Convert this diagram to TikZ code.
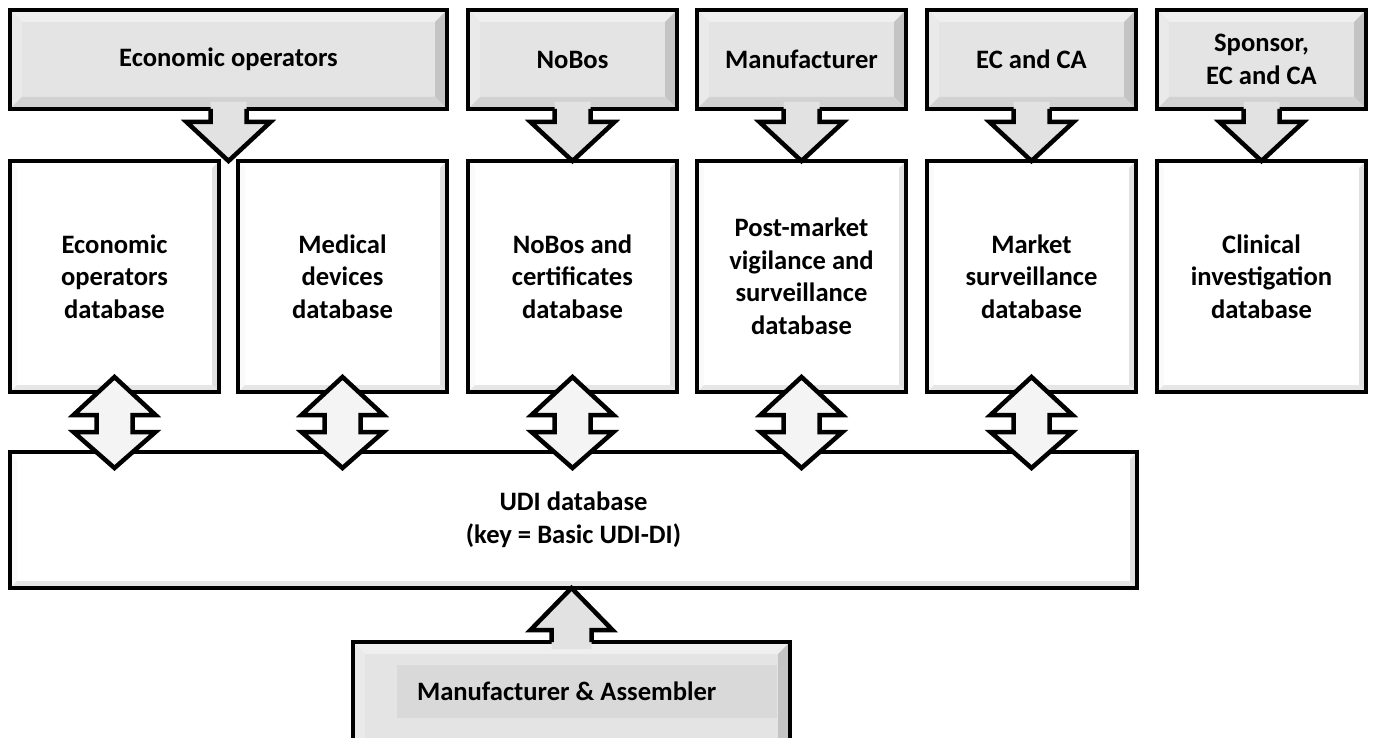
\documentclass[tikz,border=0pt]{standalone}
\usepackage{fontspec}
\setmainfont{Carlito}
\usetikzlibrary{calc}
\definecolor{topgray}{HTML}{E4E4E4}
\definecolor{topbevT}{HTML}{EFEFEF}
\definecolor{topbevL}{HTML}{EAEAEA}
\definecolor{topbevR}{HTML}{C4C4C4}
\definecolor{topbevB}{HTML}{D2D2D2}
\definecolor{dbbevR}{HTML}{E0E0E0}
\definecolor{dbbevB}{HTML}{E6E6E6}
\definecolor{innergray}{HTML}{D9D9D9}
\definecolor{arrowgray}{HTML}{E2E2E2}
\definecolor{dblgray}{HTML}{F4F4F4}
\tikzset{
  box/.style={rectangle, inner sep=0pt, outer sep=0pt, align=center,
    font=\fontsize{26.6}{32.5}\selectfont\bfseries, text=black},
  topbox/.style={box, fill=topgray},
  dbbox/.style={box, fill=white},
  border/.style={line width=4.5pt, draw=black},
  arrowfill/.style={fill=arrowgray},
  dblfill/.style={fill=dblgray},
  arrowline/.style={line width=4.5pt, draw=black, line join=miter},
}
% bevel: node, depth, top, left, right, bottom colours
\newcommand\mybevel[6]{%
  \fill[#3] (#1.north west) -- (#1.north east) -- ($(#1.north east)+(-#2,#2)$) -- ($(#1.north west)+(#2,#2)$) -- cycle;
  \fill[#4] (#1.north west) -- (#1.south west) -- ($(#1.south west)+(#2,-#2)$) -- ($(#1.north west)+(#2,#2)$) -- cycle;
  \fill[#5] (#1.north east) -- (#1.south east) -- ($(#1.south east)+(-#2,-#2)$) -- ($(#1.north east)+(-#2,#2)$) -- cycle;
  \fill[#6] (#1.south west) -- (#1.south east) -- ($(#1.south east)+(-#2,-#2)$) -- ($(#1.south west)+(#2,-#2)$) -- cycle;
  \draw[border] (#1.north west) rectangle (#1.south east);
}
% down arrow from source point #1 (box bottom) to tip #2
\newcommand\mydownarrow[2]{%
  \path[arrowfill] ($(#1)+(-18,-7)$) -- ($(#1)+(-18,13)$) -- ($(#1)+(-42,13)$) -- (#2) -- ($(#1)+(42,13)$) -- ($(#1)+(18,13)$) -- ($(#1)+(18,-7)$) -- cycle;
  \draw[arrowline] ($(#1)+(-18,0)$) -- ($(#1)+(-18,13)$) -- ($(#1)+(-42,13)$) -- (#2) -- ($(#1)+(42,13)$) -- ($(#1)+(18,13)$) -- ($(#1)+(18,0)$);
}
% up arrow from source point #1 (box top) to tip #2
\newcommand\myuparrow[2]{%
  \path[arrowfill] ($(#1)+(-20,7)$) -- ($(#1)+(-20,-12)$) -- ($(#1)+(-41,-12)$) -- (#2) -- ($(#1)+(41,-12)$) -- ($(#1)+(20,-12)$) -- ($(#1)+(20,7)$) -- cycle;
  \draw[arrowline] ($(#1)+(-20,0)$) -- ($(#1)+(-20,-12)$) -- ($(#1)+(-41,-12)$) -- (#2) -- ($(#1)+(41,-12)$) -- ($(#1)+(20,-12)$) -- ($(#1)+(20,0)$);
}
% double arrow between tips #1 (top) and #2 (bottom)
\newcommand\mydblarrow[2]{%
  \draw[arrowline, dblfill] (#1) -- ($(#1)+(41,38)$) -- ($(#1)+(18,38)$) -- ($(#2)+(18,-36)$) -- ($(#2)+(41,-36)$) -- (#2)
    -- ($(#2)+(-41,-36)$) -- ($(#2)+(-18,-36)$) -- ($(#1)+(-18,38)$) -- ($(#1)+(-41,38)$) -- cycle;
}
\begin{document}
\begin{tikzpicture}[x=1pt,y=-1pt]
\useasboundingbox (0,0) rectangle (1379,738);
\clip (0,0) rectangle (1379,738);
\fill[white] (0,0) rectangle (1379,738);

% top boxes
\node[topbox, minimum width=437pt, minimum height=99pt, anchor=north west] (eo) at (10,10) {Economic operators};
\node[topbox, minimum width=209pt, minimum height=99pt, anchor=north west] (nb) at (468,10) {NoBos};
\node[topbox, minimum width=209pt, minimum height=99pt, anchor=north west] (mf) at (697,10) {Manufacturer};
\node[topbox, minimum width=209pt, minimum height=99pt, anchor=north west] (ec) at (927,10) {EC and CA};
\node[topbox, minimum width=209pt, minimum height=99pt, anchor=north west] (sp) at (1157,10) {Sponsor,\\EC and CA};
\foreach \n in {eo,nb,mf,ec,sp} {\mybevel{\n}{12}{topbevT}{topbevL}{topbevR}{topbevB}}

% database boxes
\node[dbbox, minimum width=209pt, minimum height=231pt, anchor=north west] (eodb) at (10,161) {Economic\\operators\\database};
\node[dbbox, minimum width=209pt, minimum height=231pt, anchor=north west] (mddb) at (238,161) {Medical\\devices\\database};
\node[dbbox, minimum width=209pt, minimum height=231pt, anchor=north west] (nbdb) at (468,161) {NoBos and\\certificates\\database};
\node[dbbox, minimum width=209pt, minimum height=231pt, anchor=north west] (pmdb) at (697,161) {Post-market\\vigilance and\\surveillance\\database};
\node[dbbox, minimum width=209pt, minimum height=231pt, anchor=north west] (msdb) at (927,161) {Market\\surveillance\\database};
\node[dbbox, minimum width=209pt, minimum height=231pt, anchor=north west] (cidb) at (1157,161) {Clinical\\investigation\\database};
\foreach \n in {eodb,mddb,nbdb,pmdb,msdb,cidb} {\mybevel{\n}{7}{white}{white!98!black}{dbbevR}{dbbevB}}

% UDI box
\node[dbbox, minimum width=1127pt, minimum height=136pt, anchor=north west] (udi) at (10,452) {UDI database\\(key = Basic UDI-DI)};
\mybevel{udi}{7}{white}{white!98!black}{dbbevR}{dbbevB}

% Manufacturer & Assembler box
\node[topbox, minimum width=437pt, minimum height=110pt, anchor=north west] (ma) at (353,642) {};
\mybevel{ma}{12}{topbevT}{topbevL}{topbevR}{topbevB}
\node[rectangle, fill=innergray, minimum width=380pt, minimum height=53pt, anchor=north west, inner sep=0pt] (mainner) at (397,665) {};
\node[box, anchor=west] (matext) at ($(mainner.west)+(20,0)$) {Manufacturer \& Assembler};

% down arrows
\mydownarrow{eo.south}{eo.south |- eodb.north}
\mydownarrow{nb.south}{nbdb.north}
\mydownarrow{mf.south}{pmdb.north}
\mydownarrow{ec.south}{msdb.north}
\mydownarrow{sp.south}{cidb.north}

% up arrow
\myuparrow{ma.north}{ma.north |- udi.south}

% double arrows
\foreach \n [count=\i] in {eodb,mddb,nbdb,pmdb,msdb} {
  \coordinate (dt\i) at ($(\n.south)+(0,-15)$);
  \coordinate (db\i) at ($(\n.south |- udi.north)+(0,16)$);
  \mydblarrow{dt\i}{db\i}
}
\end{tikzpicture}
\end{document}
